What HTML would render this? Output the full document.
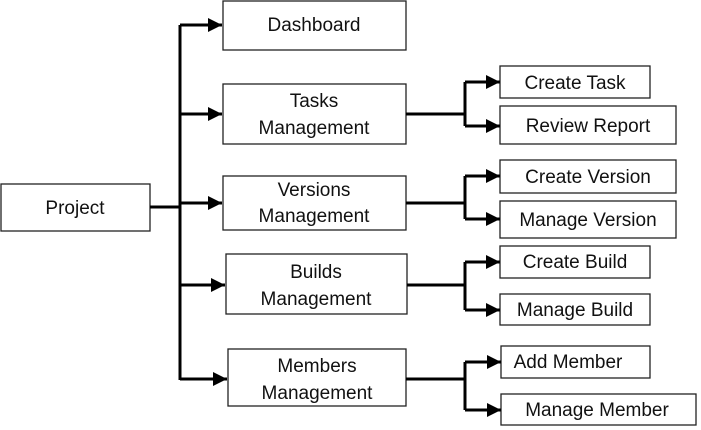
<!DOCTYPE html>
<html><head><meta charset="utf-8"><style>
html,body{margin:0;padding:0;background:#fff;width:701px;height:430px;overflow:hidden}
svg text{font-family:"Liberation Sans",sans-serif;font-size:19px;fill:#111;text-anchor:middle}
</style></head><body>
<svg width="701" height="430" viewBox="0 0 701 430" xmlns="http://www.w3.org/2000/svg">
<defs><marker id="a" markerWidth="14" markerHeight="14" refX="14" refY="7" orient="auto" markerUnits="userSpaceOnUse"><path d="M0,0 L14,7 L0,14 Z" fill="#000"/></marker></defs>
<g fill="#fff" stroke="#222" stroke-width="1.3">
<rect x="1" y="184" width="149" height="47"/>
<rect x="223" y="1" width="183" height="49"/>
<rect x="223" y="84" width="183" height="60"/>
<rect x="223" y="176" width="183" height="54"/>
<rect x="226" y="254" width="181" height="60"/>
<rect x="228" y="349" width="178" height="57"/>
<rect x="500" y="66" width="150" height="32"/>
<rect x="500" y="106" width="176" height="38"/>
<rect x="500" y="160" width="176" height="33"/>
<rect x="500" y="201" width="176" height="37"/>
<rect x="500" y="246" width="150" height="32"/>
<rect x="500" y="294" width="150" height="31"/>
<rect x="501" y="346" width="149" height="32"/>
<rect x="501" y="394" width="195" height="31"/>
</g>
<g stroke="#000" stroke-width="3" fill="none">
<path d="M150,207 H180"/>
<path d="M180,25 V380"/>
<path d="M180,25 H222" marker-end="url(#a)"/>
<path d="M180,114 H222" marker-end="url(#a)"/>
<path d="M180,203 H222" marker-end="url(#a)"/>
<path d="M180,285 H225" marker-end="url(#a)"/>
<path d="M180,379 H227" marker-end="url(#a)"/>
<path d="M406,114 H465 M465,82 V126"/>
<path d="M465,82 H500" marker-end="url(#a)"/>
<path d="M465,126 H500" marker-end="url(#a)"/>
<path d="M406,203 H465 M465,176 V219"/>
<path d="M465,176 H500" marker-end="url(#a)"/>
<path d="M465,219 H500" marker-end="url(#a)"/>
<path d="M407,285 H465 M465,262 V310"/>
<path d="M465,262 H500" marker-end="url(#a)"/>
<path d="M465,310 H500" marker-end="url(#a)"/>
<path d="M406,379 H465 M465,362 V410"/>
<path d="M465,362 H501" marker-end="url(#a)"/>
<path d="M465,410 H501" marker-end="url(#a)"/>
</g>
<text x="75" y="214">Project</text>
<text x="314" y="31">Dashboard</text>
<text x="314" y="107">Tasks</text>
<text x="314" y="134">Management</text>
<text x="314" y="196">Versions</text>
<text x="314" y="222">Management</text>
<text x="316" y="278">Builds</text>
<text x="316" y="305">Management</text>
<text x="317" y="372">Members</text>
<text x="317" y="399">Management</text>
<text x="575" y="89">Create Task</text>
<text x="588" y="132">Review Report</text>
<text x="588" y="183">Create Version</text>
<text x="588" y="226">Manage Version</text>
<text x="575" y="268">Create Build</text>
<text x="575" y="316">Manage Build</text>
<text x="568" y="368">Add Member</text>
<text x="597" y="416">Manage Member</text>
</svg>
</body></html>
